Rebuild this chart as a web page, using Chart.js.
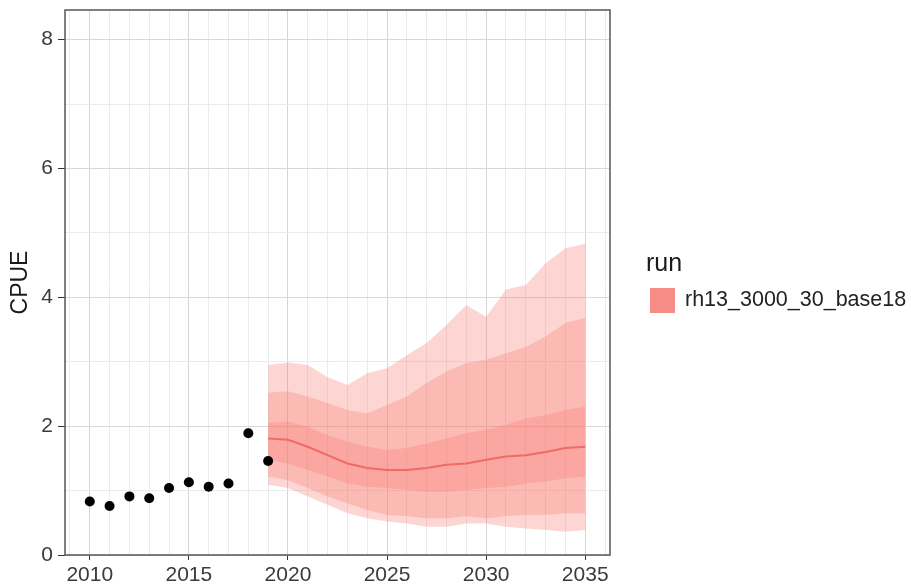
<!DOCTYPE html>
<html>
<head>
<meta charset="utf-8">
<script src="https://cdn.jsdelivr.net/npm/chart.js@4/dist/chart.umd.min.js"></script>
<style>
  html, body { margin: 0; padding: 0; background: #fff; }
  #wrap { position: relative; width: 911px; height: 585px; }
  #legend-title { position: absolute; left: 646px; top: 248px; font: 25px "Liberation Sans", Arial, sans-serif; color: #1a1a1a; }
  #legend-key { position: absolute; left: 650px; top: 288px; width: 25px; height: 25px; background: #f58c86; }
  #legend-label { position: absolute; left: 685px; top: 287px; font: 21.5px "Liberation Sans", Arial, sans-serif; color: #222; }
</style>
</head>
<body>
<div id="wrap">
  <canvas id="chart" width="911" height="585"></canvas>
  <div id="legend-title">run</div>
  <div id="legend-key"></div>
  <div id="legend-label">rh13_3000_30_base18</div>
</div>
<script>
// -------------------------
// DATA
// -------------------------
const obsYears = [2010, 2011, 2012, 2013, 2014, 2015, 2016, 2017, 2018, 2019];
const obsCpue  = [0.83, 0.76, 0.91, 0.88, 1.04, 1.13, 1.06, 1.11, 1.89, 1.46];

const projYears = [2019, 2020, 2021, 2022, 2023, 2024, 2025, 2026, 2027,
                   2028, 2029, 2030, 2031, 2032, 2033, 2034, 2035];
const hi90   = [2.95, 2.99, 2.95, 2.76, 2.64, 2.82, 2.90, 3.10, 3.29, 3.57, 3.88, 3.70, 4.12, 4.19, 4.53, 4.76, 4.83];
const hi80   = [2.52, 2.54, 2.46, 2.36, 2.25, 2.20, 2.33, 2.46, 2.67, 2.85, 2.98, 3.03, 3.13, 3.23, 3.39, 3.60, 3.68];
const hi50   = [2.05, 2.07, 1.99, 1.86, 1.76, 1.68, 1.63, 1.66, 1.73, 1.81, 1.89, 1.94, 2.02, 2.12, 2.17, 2.25, 2.30];
const median = [1.81, 1.79, 1.68, 1.55, 1.42, 1.35, 1.32, 1.32, 1.35, 1.40, 1.42, 1.48, 1.53, 1.55, 1.60, 1.66, 1.68];
const lo50   = [1.48, 1.42, 1.32, 1.22, 1.11, 1.06, 1.04, 1.01, 0.98, 0.98, 1.01, 1.04, 1.06, 1.11, 1.14, 1.19, 1.22];
const lo80   = [1.22, 1.16, 1.04, 0.91, 0.80, 0.70, 0.62, 0.60, 0.57, 0.57, 0.60, 0.57, 0.60, 0.62, 0.62, 0.65, 0.65];
const lo90   = [1.09, 1.04, 0.91, 0.78, 0.65, 0.57, 0.52, 0.49, 0.44, 0.44, 0.49, 0.49, 0.44, 0.41, 0.39, 0.36, 0.39];

const xTicks = [2010, 2015, 2020, 2025, 2030, 2035];
const yTicks = [0, 2, 4, 6, 8];

// -------------------------
// HELPERS
// -------------------------
const pts = (xs, ys) => xs.map((x, i) => ({ x: x, y: ys[i] }));
const band = "rgba(248,118,109,0.3)";
const FONT = "'Liberation Sans', Arial, sans-serif";

function band_ds(label, data, fill) {
  return {
    label: label,
    data: data,
    borderWidth: 0,
    pointRadius: 0,
    backgroundColor: band,
    fill: fill,
    order: 3
  };
}

// panel border like ggplot theme_bw
const borderPlugin = {
  id: "panelBorder",
  afterDraw(c) {
    const a = c.chartArea;
    const ctx = c.ctx;
    ctx.save();
    ctx.strokeStyle = "#555";
    ctx.lineWidth = 1.5;
    ctx.strokeRect(a.left, a.top, a.right - a.left, a.bottom - a.top);
    ctx.restore();
  }
};

// -------------------------
// CHART
// -------------------------
new Chart(document.getElementById("chart"), {
  type: "line",
  data: {
    datasets: [
      band_ds("hi90", pts(projYears, hi90), "+1"),
      band_ds("lo90", pts(projYears, lo90), false),
      band_ds("hi80", pts(projYears, hi80), "+1"),
      band_ds("lo80", pts(projYears, lo80), false),
      band_ds("hi50", pts(projYears, hi50), "+1"),
      band_ds("lo50", pts(projYears, lo50), false),
      {
        label: "median",
        data: pts(projYears, median),
        borderColor: "rgba(238,100,95,0.9)",
        borderWidth: 2,
        pointRadius: 0,
        fill: false,
        order: 2
      },
      {
        label: "obs",
        data: pts(obsYears, obsCpue),
        showLine: false,
        pointRadius: 5,
        pointBackgroundColor: "#000",
        pointBorderColor: "#000",
        borderWidth: 0,
        order: 1
      }
    ]
  },
  options: {
    responsive: false,
    animation: false,
    layout: { padding: { left: 0, top: 10, right: 301, bottom: 0 } },
    plugins: {
      legend: { display: false },
      tooltip: { enabled: false }
    },
    elements: { line: { tension: 0 } },
    scales: {
      x: {
        type: "linear",
        min: 2008.75,
        max: 2036.25,
        afterBuildTicks: (s) => {
          const t = [];
          for (let y = 2009; y <= 2036; y++) t.push({ value: y });
          s.ticks = t;
        },
        afterFit: (s) => { s.height = 30; s.paddingLeft = 0; s.paddingRight = 0; },
        border: { display: false },
        grid: {
          color: (ctx) => (ctx.tick && ctx.tick.value % 5 === 0) ? "#d6d6d6" : "#ebebeb",
          lineWidth: 1,
          tickLength: 5,
          tickColor: (ctx) => (ctx.tick && xTicks.includes(ctx.tick.value)) ? "#333" : "rgba(0,0,0,0)"
        },
        ticks: {
          autoSkip: false,
          maxRotation: 0,
          padding: 3,
          color: "#3a3a3a",
          font: { family: FONT, size: 21 },
          callback: (v) => xTicks.includes(v) ? String(v) : ""
        }
      },
      y: {
        min: 0,
        max: 8.46,
        afterBuildTicks: (s) => {
          s.ticks = [0, 1, 2, 3, 4, 5, 6, 7, 8].map(v => ({ value: v }));
        },
        afterFit: (s) => { s.width = 65; s.paddingTop = 0; s.paddingBottom = 0; },
        border: { display: false },
        grid: {
          color: (ctx) => (ctx.tick && ctx.tick.value % 2 === 0) ? "#d9d9d9" : "#ebebeb",
          lineWidth: 1,
          tickLength: 7,
          tickColor: (ctx) => (ctx.tick && yTicks.includes(ctx.tick.value)) ? "#333" : "rgba(0,0,0,0)"
        },
        ticks: {
          padding: 5,
          color: "#3a3a3a",
          font: { family: FONT, size: 21 },
          callback: (v) => yTicks.includes(v) ? String(v) : ""
        },
        title: {
          display: true,
          text: "CPUE",
          color: "#1a1a1a",
          font: { family: FONT, size: 23 },
          padding: { top: 7, bottom: 0 }
        }
      }
    }
  },
  plugins: [borderPlugin]
});
</script>
</body>
</html>
